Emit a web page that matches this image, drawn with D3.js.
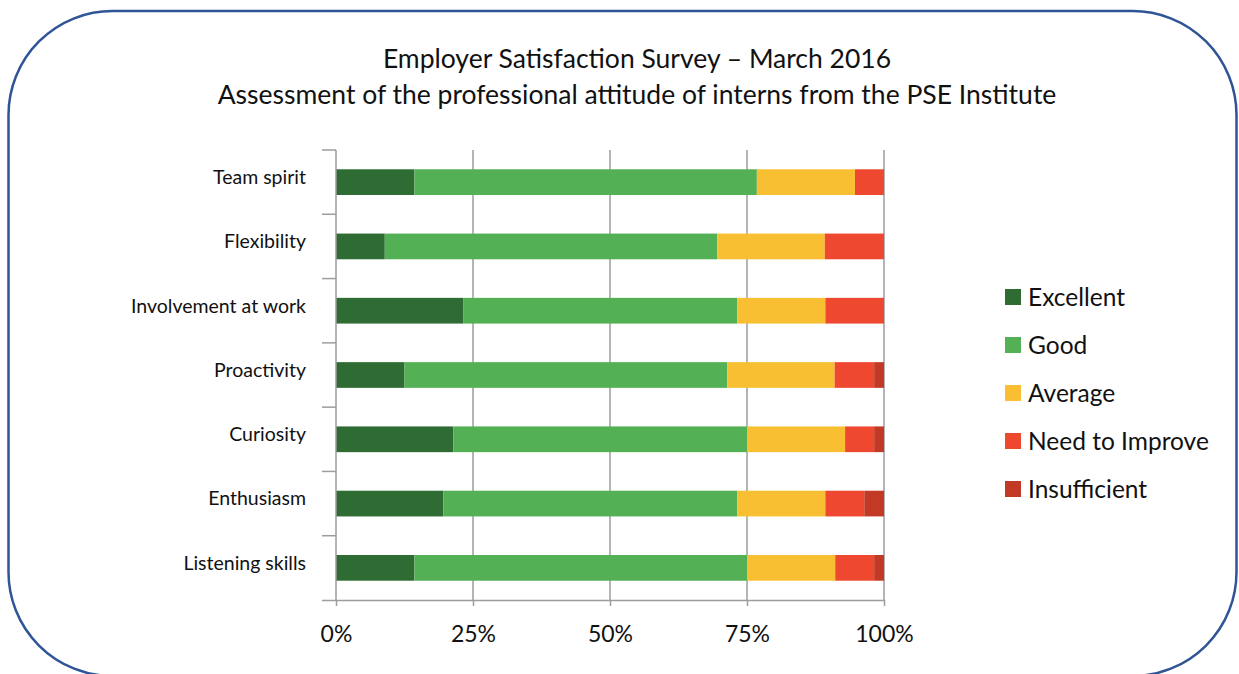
<!DOCTYPE html>
<html>
<head>
<meta charset="utf-8">
<script src="https://cdn.jsdelivr.net/npm/d3@7.9.0/dist/d3.min.js"></script>
<style>
  body { margin: 0; background: #fff; }
  svg { display: block; font-family: Lato, "Open Sans", sans-serif; }
</style>
</head>
<body>
<svg id="chart" width="1239" height="674"></svg>
<script>
const categories = ['Team spirit', 'Flexibility', 'Involvement at work', 'Proactivity', 'Curiosity', 'Enthusiasm', 'Listening skills'];
const levels = ['Excellent', 'Good', 'Average', 'Need to Improve', 'Insufficient'];
const excellent = [14.3, 8.9, 23.2, 12.5, 21.4, 19.6, 14.3];
const good = [62.5, 60.7, 50.0, 58.9, 53.6, 53.6, 60.7];
const average = [17.9, 19.6, 16.1, 19.6, 17.9, 16.1, 16.1];
const needToImprove = [5.3, 10.8, 10.7, 7.2, 5.3, 7.1, 7.1];
const insufficient = [0, 0, 0, 1.8, 1.8, 3.6, 1.8];
const levelColors = ['#2f6c33', '#53b054', '#f9bf32', '#ef4830', '#c23a26'];
const xTicks = [0, 25, 50, 75, 100];

const svg = d3.select('#chart');

// rounded frame
svg.append('rect')
  .attr('x', 8.5).attr('y', 11)
  .attr('width', 1228).attr('height', 665)
  .attr('rx', 104).attr('ry', 104)
  .attr('fill', 'none')
  .attr('stroke', '#2f5597')
  .attr('stroke-width', 2.5);

// title
const title = svg.append('text')
  .attr('text-anchor', 'middle')
  .attr('font-size', 26.5)
  .attr('fill', '#111');
title.append('tspan').attr('x', 637).attr('y', 68).text('Employer Satisfaction Survey \u2013 March 2016');
title.append('tspan').attr('x', 637).attr('y', 104).text('Assessment of the professional attitude of interns from the PSE Institute');

const rows = categories.map((c, i) => ({
  category: c,
  'Excellent': excellent[i],
  'Good': good[i],
  'Average': average[i],
  'Need to Improve': needToImprove[i],
  'Insufficient': insufficient[i]
}));

const stack = d3.stack().keys(levels);
const series = stack(rows);

const plotTop = 150, plotBottom = 600;
const x = d3.scaleLinear().domain([0, 100]).range([336, 884]);
const y = d3.scaleBand().domain(categories).range([plotTop, plotBottom]).paddingInner(0.6).paddingOuter(0.3);
const color = d3.scaleOrdinal().domain(levels).range(levelColors);

// gridlines
svg.append('g')
  .selectAll('line')
  .data(xTicks.slice(1))
  .join('line')
  .attr('x1', d => x(d)).attr('x2', d => x(d))
  .attr('y1', plotTop).attr('y2', plotBottom)
  .attr('stroke', '#9d9d9d')
  .attr('stroke-width', 1.5);

// bars
svg.append('g')
  .selectAll('g')
  .data(series)
  .join('g')
  .attr('fill', d => color(d.key))
  .selectAll('rect')
  .data(d => d)
  .join('rect')
  .attr('x', d => x(d[0]))
  .attr('y', d => y(d.data.category))
  .attr('width', d => x(d[1]) - x(d[0]))
  .attr('height', y.bandwidth());

// x axis
const xAxis = svg.append('g')
  .attr('transform', `translate(0,${plotBottom})`)
  .call(d3.axisBottom(x).tickValues(xTicks).tickFormat(d => d + '%').tickSizeOuter(0).tickSize(6).tickPadding(20));
xAxis.select('.domain').attr('stroke', '#9d9d9d').attr('stroke-width', 1.5).attr('d', 'M322,0.5H884');
xAxis.selectAll('.tick line').attr('stroke', '#9d9d9d').attr('stroke-width', 1.5);
xAxis.selectAll('.tick text').attr('font-size', 23).attr('fill', '#111').attr('font-family', 'Lato, "Open Sans", sans-serif');

// y axis line and tick marks at band boundaries
svg.append('line')
  .attr('x1', x(0)).attr('x2', x(0))
  .attr('y1', plotTop).attr('y2', plotBottom)
  .attr('stroke', '#9d9d9d').attr('stroke-width', 1.5);
const bounds = d3.range(categories.length).map(i => plotTop + i * y.step());
svg.append('g')
  .selectAll('line')
  .data(bounds)
  .join('line')
  .attr('x1', 322).attr('x2', x(0))
  .attr('y1', d => d).attr('y2', d => d)
  .attr('stroke', '#9d9d9d').attr('stroke-width', 1.5);

// category labels
svg.append('g')
  .selectAll('text')
  .data(categories)
  .join('text')
  .attr('x', 306)
  .attr('y', d => y(d) + y.bandwidth() / 2 - 5)
  .attr('dy', '0.35em')
  .attr('text-anchor', 'end')
  .attr('font-size', 19.5)
  .attr('fill', '#111')
  .text(d => d);

// legend
const legend = svg.append('g')
  .selectAll('g')
  .data(levels)
  .join('g')
  .attr('transform', (d, i) => `translate(1005,${297 + i * 48})`);
legend.append('rect')
  .attr('x', 0).attr('y', -8)
  .attr('width', 16).attr('height', 16)
  .attr('fill', d => color(d));
legend.append('text')
  .attr('x', 23)
  .attr('dy', '0.35em')
  .attr('font-size', 24.5)
  .attr('fill', '#111')
  .text(d => d);
</script>
</body>
</html>
